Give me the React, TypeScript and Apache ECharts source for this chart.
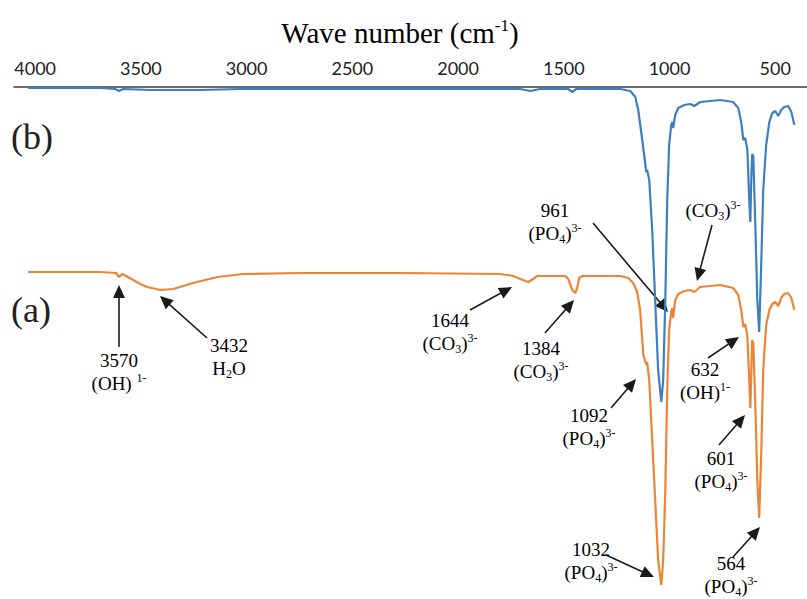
import React, { useEffect, useRef } from "react";
import * as echarts from "echarts";

// ---- Data ----
const tickValues = [4000, 3500, 3000, 2500, 2000, 1500, 1000, 500];

// Spectrum (b) – blue
const waveB = [4033, 3693, 3622, 3603, 3584, 3456, 3220, 3030, 2274, 1706, 1659, 1612, 1479, 1460, 1441, 1233, 1186, 1162, 1148, 1134, 1120, 1110, 1106, 1096, 1082, 1068, 1054, 1039, 1030, 1020, 1011, 1002, 992, 987, 983, 973, 959, 930, 902, 883, 855, 760, 699, 675, 661, 651, 642, 632, 623, 618, 613, 609, 604, 595, 585, 576, 566, 557, 543, 528, 514, 500, 486, 472, 458, 439, 424, 410];
const transB = [99.8, 99.8, 99.6, 99.2, 99.6, 99.4, 99.4, 99.6, 99.6, 99.6, 99.2, 99.6, 99.6, 99.0, 99.6, 99.6, 99.2, 98.0, 95.4, 91.0, 86.4, 83.0, 83.4, 81.4, 71.4, 57.4, 43.4, 37.0, 41.4, 57.4, 77.4, 88.4, 92.4, 93.0, 91.8, 94.4, 95.8, 96.4, 96.6, 96.2, 97.0, 97.4, 97.0, 95.8, 93.0, 89.4, 89.8, 87.4, 77.4, 73.0, 82.4, 86.6, 86.2, 73.4, 57.4, 51.0, 65.4, 79.4, 88.4, 93.0, 94.8, 95.2, 94.2, 95.4, 96.0, 96.2, 95.0, 92.4];

// Spectrum (a) – orange
const waveA = [4033, 3693, 3617, 3603, 3589, 3570, 3536, 3503, 3470, 3409, 3347, 3253, 3139, 3016, 2747, 2274, 1801, 1739, 1706, 1668, 1645, 1626, 1493, 1479, 1460, 1446, 1437, 1427, 1413, 1233, 1195, 1172, 1153, 1139, 1124, 1110, 1106, 1096, 1082, 1068, 1054, 1039, 1030, 1020, 1011, 1002, 992, 987, 983, 973, 959, 930, 902, 883, 855, 760, 699, 675, 661, 651, 642, 632, 623, 618, 613, 609, 604, 595, 585, 576, 566, 557, 543, 528, 514, 500, 486, 472, 458, 439, 424, 410];
const transA = [63.0, 63.0, 62.8, 62.0, 62.6, 62.2, 61.4, 60.6, 60.0, 59.4, 59.6, 60.8, 62.0, 62.6, 62.8, 62.8, 62.6, 62.2, 61.6, 61.0, 61.6, 62.2, 62.2, 61.6, 59.4, 58.8, 59.8, 61.8, 62.2, 62.2, 61.8, 60.8, 59.0, 55.4, 46.4, 44.4, 45.0, 41.4, 29.4, 17.4, 5.4, 0.4, 5.4, 19.4, 39.4, 51.4, 55.0, 55.8, 53.8, 57.4, 58.6, 59.2, 59.4, 59.0, 60.0, 60.4, 59.8, 58.4, 55.4, 52.0, 52.6, 50.2, 41.4, 35.8, 43.4, 49.4, 48.8, 37.4, 21.4, 13.8, 27.4, 43.4, 52.4, 55.4, 56.6, 57.0, 56.2, 57.8, 58.6, 58.8, 57.8, 55.4];

// Annotation texts (rich-text markup)
const annotationTexts = [
  "{n|3570}\n{n|(OH) }{sup|1-}",
  "{n|3432}\n{n|H}{sub|2}{n|O}",
  "{n|1644}\n{n|(CO}{sub|3}{n|)}{sup|3-}",
  "{n|1384}\n{n|(CO}{sub|3}{n|)}{sup|3-}",
  "{n|1092}\n{n|(PO}{sub|4}{n|)}{sup|3-}",
  "{n|1032}\n{n|(PO}{sub|4}{n|)}{sup|3-}",
  "{n|961}\n{n|(PO}{sub|4}{n|)}{sup|3-}",
  "{n|(CO}{sub|3}{n|)}{sup|3-}",
  "{n|632}\n{n|(OH)}{sup|1-}",
  "{n|601}\n{n|(PO}{sub|4}{n|)}{sup|3-}",
  "{n|564}\n{n|(PO}{sub|4}{n|)}{sup|3-}",
];

// ---- Layout of annotations (pixels) ----
const annotationLayout = [
  { tx: 119, ty: 372, from: [119, 347], to: [119, 285] },
  { tx: 229, ty: 357, from: [207, 338], to: [160, 296] },
  { tx: 450, ty: 332, from: [470, 310], to: [512, 287] },
  { tx: 541, ty: 360, from: [545, 333], to: [574, 300] },
  { tx: 589, ty: 427, from: [611, 408], to: [636, 379] },
  { tx: 591, ty: 561, from: [606, 555], to: [654, 577] },
  { tx: 555, ty: 222, from: [593, 223], to: [668, 312] },
  { tx: 713, ty: 210, from: [712, 225], to: [697, 281] },
  { tx: 705, ty: 381, from: [708, 358], to: [739, 337] },
  { tx: 721, ty: 470, from: [719, 445], to: [745, 415] },
  { tx: 731, ty: 575, from: [733, 557], to: [760, 527] },
];

const SERIF = "'Liberation Serif', 'Times New Roman', serif";
const BLUE = "#3f7fc0";
const ORANGE = "#ec8537";

function arrow(from: number[], to: number[]) {
  const dx = to[0] - from[0];
  const dy = to[1] - from[1];
  const len = Math.sqrt(dx * dx + dy * dy);
  const ux = dx / len;
  const uy = dy / len;
  const headLen = 13;
  const headW = 6;
  const bx = to[0] - ux * headLen;
  const by = to[1] - uy * headLen;
  const px = -uy;
  const py = ux;
  return [
    {
      type: "line",
      shape: { x1: from[0], y1: from[1], x2: bx + ux * 2, y2: by + uy * 2 },
      style: { stroke: "#1a1a1a", lineWidth: 1.6 },
    },
    {
      type: "polygon",
      shape: {
        points: [
          [to[0], to[1]],
          [bx + px * headW, by + py * headW],
          [bx - px * headW, by - py * headW],
        ],
      },
      style: { fill: "#1a1a1a" },
    },
  ];
}

const richStyles = {
  n: { fontFamily: SERIF, fontSize: 19, color: "#222", lineHeight: 23, verticalAlign: "middle" },
  sub: { fontFamily: SERIF, fontSize: 12, color: "#222", lineHeight: 12, verticalAlign: "bottom" },
  sup: { fontFamily: SERIF, fontSize: 12, color: "#222", lineHeight: 12, verticalAlign: "top" },
};

export default function App() {
  const ref = useRef<HTMLDivElement>(null);
  useEffect(() => {
    if (!ref.current) return;
    const chart = echarts.init(ref.current, undefined, { renderer: "svg" });

    const graphics: any[] = [];
    graphics.push({
      type: "text",
      x: 400,
      y: 33,
      style: {
        text: "{t|Wave number (cm}{s|-1}{t|)}",
        align: "center",
        verticalAlign: "middle",
        rich: {
          t: { fontFamily: SERIF, fontSize: 29, color: "#222", lineHeight: 32, verticalAlign: "middle" },
          s: { fontFamily: SERIF, fontSize: 17, color: "#222", lineHeight: 17, verticalAlign: "top" },
        },
      },
    });
    graphics.push({
      type: "text",
      x: 11,
      y: 137,
      style: { text: "(b)", fontFamily: SERIF, fontSize: 36, fill: "#222", align: "left", verticalAlign: "middle" },
    });
    graphics.push({
      type: "text",
      x: 11,
      y: 310,
      style: { text: "(a)", fontFamily: SERIF, fontSize: 36, fill: "#222", align: "left", verticalAlign: "middle" },
    });
    annotationTexts.forEach((t, i) => {
      const l = annotationLayout[i];
      graphics.push({
        type: "text",
        x: l.tx,
        y: l.ty,
        style: { text: t, align: "center", verticalAlign: "middle", rich: richStyles },
      });
      graphics.push(...arrow(l.from, l.to));
    });

    chart.setOption({
      animation: false,
      grid: { left: 14, right: 0, top: 87, height: 500 },
      xAxis: {
        type: "value",
        position: "top",
        inverse: true,
        min: 350,
        max: 4100,
        axisLine: { show: true, onZero: false, lineStyle: { color: "#3a3a3a", width: 1.5 } },
        axisTick: { show: false },
        splitLine: { show: false },
        axisLabel: {
          customValues: tickValues,
          formatter: (v: number) => String(v),
          fontFamily: "Lato, 'Liberation Sans', sans-serif",
          fontSize: 18,
          color: "#222",
          margin: 10,
        },
      },
      yAxis: { type: "value", min: 0, max: 100, show: false },
      series: [
        {
          name: "(b)",
          type: "line",
          showSymbol: false,
          data: waveB.map((w, i) => [w, transB[i]]),
          lineStyle: { color: BLUE, width: 2.2 },
          itemStyle: { color: BLUE },
          z: 2,
        },
        {
          name: "(a)",
          type: "line",
          showSymbol: false,
          data: waveA.map((w, i) => [w, transA[i]]),
          lineStyle: { color: ORANGE, width: 2.2 },
          itemStyle: { color: ORANGE },
          z: 3,
        },
      ],
      graphic: graphics,
    });
    return () => chart.dispose();
  }, []);
  return (
    <div
      ref={ref}
      style={{ position: "fixed", left: 0, top: 0, width: 807, height: 599, background: "#fff" }}
    />
  );
}
